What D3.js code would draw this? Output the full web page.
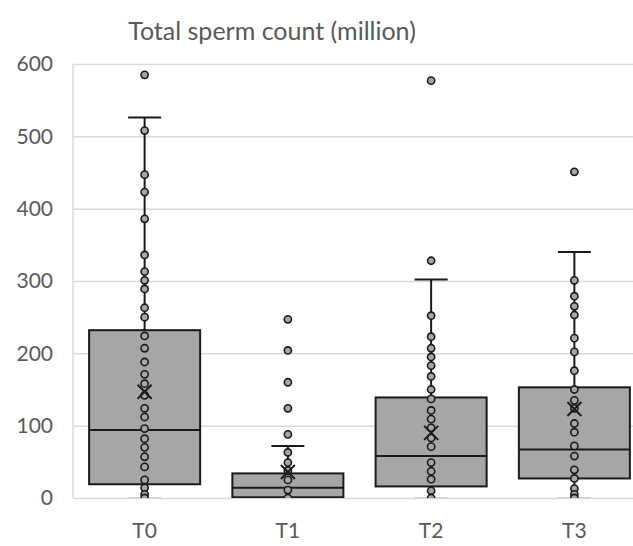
<!DOCTYPE html>
<html>
<head>
<meta charset="utf-8">
<script src="https://cdn.jsdelivr.net/npm/d3@7"></script>
<style>
  html, body { margin: 0; padding: 0; background: #fff; }
  svg { display: block; }
</style>
</head>
<body>
<svg id="chart" width="633" height="546"></svg>
<script>
const groups = ['T0', 'T1', 'T2', 'T3'];
const yTicks = [0, 100, 200, 300, 400, 500, 600];

// box stats
const q1 = [19, 1, 16, 27];
const medians = [94, 14, 58, 67];
const q3 = [232, 34, 139, 153];
const whiskerLow = [0, 0, 0, 0];
const whiskerHigh = [526, 72, 302, 340];
const means = [147, 36, 90, 123];

// individual points
const pointsT0 = [585, 508, 447, 423, 386, 336, 313, 301, 289, 263, 250, 224, 207, 188, 171, 158, 142, 124, 112, 96, 82, 70, 57, 43, 25, 14, 5, 0];
const pointsT1 = [247, 204, 160, 124, 88, 63, 49, 38, 25, 11, 0];
const pointsT2 = [577, 328, 252, 223, 207, 195, 183, 168, 150, 137, 121, 109, 97, 83, 71, 49, 37, 26, 10, 0];
const pointsT3 = [451, 301, 279, 265, 253, 221, 202, 176, 150, 135, 124, 103, 91, 72, 58, 39, 27, 13, 5, 0];
const points = [pointsT0, pointsT1, pointsT2, pointsT3];

const svg = d3.select('#chart');
const plot = {left: 73, right: 646, top: 64, bottom: 498};

const x = d3.scaleBand().domain(groups).range([plot.left, plot.right]);
const y = d3.scaleLinear().domain([0, 600]).range([plot.bottom, plot.top]);

const boxW = x.bandwidth() * 0.775,
  capW = 33,
  fill = '#a6a6a6',
  ink = '#1a1a1a',
  textCol = '#595959';

svg.append('defs').append('clipPath').attr('id', 'clip')
  .append('rect')
  .attr('x', plot.left).attr('y', plot.top - 10)
  .attr('width', 633 - plot.left).attr('height', plot.bottom - plot.top + 10);

// title
svg.append('text')
  .text('Total sperm count (million)')
  .attr('x', 272).attr('y', 40)
  .attr('text-anchor', 'middle')
  .style('font-family', 'Lato, Open Sans, sans-serif')
  .style('font-size', '25px')
  .style('fill', textCol);

// gridlines + y labels
const yAxis = d3.axisLeft(y).tickValues(yTicks).tickSize(-(633 - plot.left)).tickPadding(20);
const gy = svg.append('g')
  .attr('transform', 'translate(' + plot.left + ',0)')
  .call(yAxis);
gy.select('.domain').remove();
gy.selectAll('.tick line').style('stroke', '#d9d9d9').style('stroke-width', 1.5);
gy.selectAll('.tick text')
  .style('font-family', 'Lato, Open Sans, sans-serif')
  .style('font-size', '21px')
  .style('fill', textCol);

svg.append('line')
  .attr('x1', plot.left).attr('x2', plot.left)
  .attr('y1', plot.top).attr('y2', plot.bottom)
  .style('stroke', '#d9d9d9').style('stroke-width', 1.5);

// x labels
svg.selectAll('.xlabel')
  .data(groups)
  .enter()
  .append('text')
  .attr('class', 'xlabel')
  .text(d => d)
  .attr('x', d => x(d) + x.bandwidth() / 2)
  .attr('y', 538)
  .attr('text-anchor', 'middle')
  .style('font-family', 'Lato, Open Sans, sans-serif')
  .style('font-size', '21px')
  .style('fill', textCol);

const g = svg.append('g').attr('clip-path', 'url(#clip)');

groups.forEach((grp, i) => {
  const cx = x(grp) + x.bandwidth() / 2;

  // whiskers
  g.append('line')
    .attr('x1', cx).attr('x2', cx)
    .attr('y1', y(q3[i])).attr('y2', y(whiskerHigh[i]))
    .style('stroke', ink).style('stroke-width', 2);
  g.append('line')
    .attr('x1', cx - capW / 2).attr('x2', cx + capW / 2)
    .attr('y1', y(whiskerHigh[i])).attr('y2', y(whiskerHigh[i]))
    .style('stroke', ink).style('stroke-width', 2);
  g.append('line')
    .attr('x1', cx).attr('x2', cx)
    .attr('y1', y(q1[i])).attr('y2', y(whiskerLow[i]))
    .style('stroke', ink).style('stroke-width', 2);
  g.append('line')
    .attr('x1', cx - capW / 2).attr('x2', cx + capW / 2)
    .attr('y1', y(whiskerLow[i])).attr('y2', y(whiskerLow[i]))
    .style('stroke', '#cfcfcf').style('stroke-width', 2);

  // box
  g.append('rect')
    .attr('x', cx - boxW / 2)
    .attr('y', y(q3[i]))
    .attr('width', boxW)
    .attr('height', y(q1[i]) - y(q3[i]))
    .style('fill', fill)
    .style('stroke', ink)
    .style('stroke-width', 2);
  g.append('line')
    .attr('x1', cx - boxW / 2).attr('x2', cx + boxW / 2)
    .attr('y1', y(medians[i])).attr('y2', y(medians[i]))
    .style('stroke', ink).style('stroke-width', 2);

  // points
  g.selectAll('.pt_' + grp)
    .data(points[i])
    .enter()
    .append('circle')
    .attr('class', 'pt_' + grp)
    .attr('cx', cx)
    .attr('cy', d => y(d))
    .attr('r', 3.6)
    .style('fill', fill)
    .style('stroke', ink)
    .style('stroke-width', 1.6);

  // mean marker
  const my = y(means[i]), s = 7;
  g.append('path')
    .attr('d', `M${cx - s},${my - s}L${cx + s},${my + s}M${cx - s},${my + s}L${cx + s},${my - s}`)
    .style('stroke', ink)
    .style('stroke-width', 2)
    .style('fill', 'none');
});
</script>
</body>
</html>
